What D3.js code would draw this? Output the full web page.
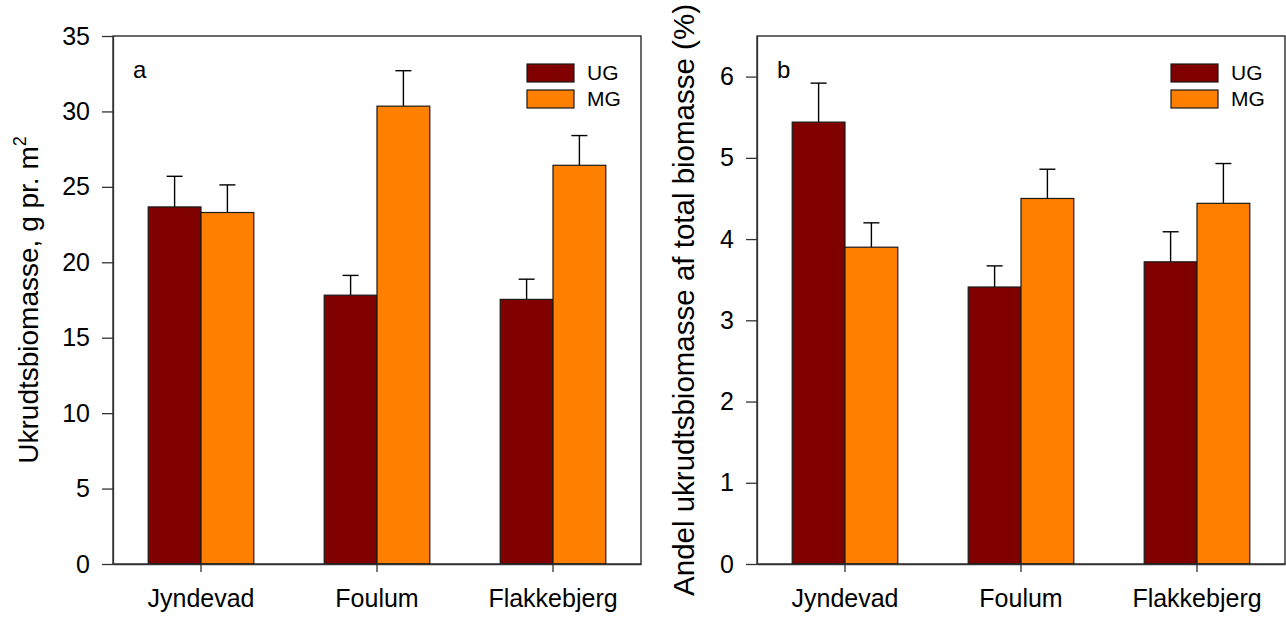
<!DOCTYPE html>
<html>
<head>
<meta charset="utf-8">
<script src="https://cdn.jsdelivr.net/npm/d3@7"></script>
<style>
  body { margin: 0; background: #fff; }
  svg { display: block; font-family: "Liberation Sans", Arial, sans-serif; }
</style>
</head>
<body>
<div id="chart"></div>
<script>
// data
const sites = ["Jyndevad", "Foulum", "Flakkebjerg"]
const groups = ["UG", "MG"]
const groupColors = ["#800000", "#FF8000"]

// panel a: weed biomass, g per m2
const biomassUG = [23.67, 17.82, 17.54]
const biomassUGse = [2.03, 1.31, 1.34]
const biomassMG = [23.30, 30.35, 26.43]
const biomassMGse = [1.83, 2.35, 1.97]
const biomassTicks = [0, 5, 10, 15, 20, 25, 30, 35]

// panel b: share of total biomass, %
const shareUG = [5.44, 3.41, 3.72]
const shareUGse = [0.48, 0.26, 0.37]
const shareMG = [3.90, 4.50, 4.44]
const shareMGse = [0.30, 0.36, 0.49]
const shareTicks = [0, 1, 2, 3, 4, 5, 6]

const width = 1286
const height = 630

const svg = d3.select("#chart")
  .append("svg")
    .attr("width", width)
    .attr("height", height)

const drawPanel = (opts) => {
  const { left, right, top, bottom, yMax, ticks, ug, ugSe, mg, mgSe, letter, title } = opts
  const xScale = d3.scaleBand().domain(sites).range([left, right]).padding(0)
  const yScale = d3.scaleLinear().domain([0, yMax]).range([bottom, top])
  const step = xScale.bandwidth()
  const barW = step * 0.3

  const g = svg.append("g")

  const rows = []
  sites.forEach((s, i) => {
    rows.push({ site: s, k: 0, v: ug[i], se: ugSe[i] })
    rows.push({ site: s, k: 1, v: mg[i], se: mgSe[i] })
  })
  const barX = d => xScale(d.site) + step / 2 + (d.k === 0 ? -barW : 0)

  // error bars (upper only)
  const err = g.append("g").attr("stroke", "#000").attr("stroke-width", 1.4)
  err.selectAll("line.stem")
    .data(rows)
    .join("line")
      .attr("class", "stem")
      .attr("x1", d => barX(d) + barW / 2)
      .attr("x2", d => barX(d) + barW / 2)
      .attr("y1", d => yScale(d.v))
      .attr("y2", d => yScale(d.v + d.se))
  err.selectAll("line.cap")
    .data(rows)
    .join("line")
      .attr("class", "cap")
      .attr("x1", d => barX(d) + barW / 2 - 8)
      .attr("x2", d => barX(d) + barW / 2 + 8)
      .attr("y1", d => yScale(d.v + d.se))
      .attr("y2", d => yScale(d.v + d.se))

  g.append("g")
    .selectAll("rect")
    .data(rows)
    .join("rect")
      .attr("x", barX)
      .attr("y", d => yScale(d.v))
      .attr("width", barW)
      .attr("height", d => yScale(0) - yScale(d.v))
      .attr("fill", d => groupColors[d.k])
      .attr("stroke", "#1a1a1a")
      .attr("stroke-width", 1.2)

  // frame
  g.append("rect")
    .attr("x", left)
    .attr("y", top)
    .attr("width", right - left)
    .attr("height", bottom - top)
    .attr("fill", "none")
    .attr("stroke", "#1a1a1a")
    .attr("stroke-width", 1.3)

  const yAxis = g.append("g")
    .attr("transform", "translate(" + left + ",0)")
    .call(d3.axisLeft(yScale).tickValues(ticks).tickFormat(d3.format("d"))
      .tickSize(11).tickSizeOuter(0).tickPadding(12))
  yAxis.select(".domain").attr("stroke", "#333").attr("stroke-width", 1.3)
  yAxis.selectAll(".tick line").attr("stroke", "#333").attr("stroke-width", 1.3)
  yAxis.selectAll("text").attr("font-size", 25).attr("fill", "#000").attr("font-family", "Liberation Sans, Arial, sans-serif")

  const xAxis = g.append("g")
    .attr("transform", "translate(0," + bottom + ")")
    .call(d3.axisBottom(xScale).tickSize(8).tickSizeOuter(0).tickPadding(17))
  xAxis.select(".domain").attr("stroke", "#333").attr("stroke-width", 1.3)
  xAxis.selectAll(".tick line").attr("stroke", "#333").attr("stroke-width", 1.3)
  xAxis.selectAll("text").attr("font-size", 25).attr("fill", "#000").attr("font-family", "Liberation Sans, Arial, sans-serif")

  g.append("text")
    .attr("x", left + 20)
    .attr("y", top + 42)
    .attr("font-size", 24)
    .text(letter)

  // legend
  const lg = g.append("g").attr("transform", "translate(" + (right - 114) + "," + (top + 28) + ")")
  groups.forEach((name, i) => {
    lg.append("rect")
      .attr("x", 0)
      .attr("y", i * 26)
      .attr("width", 47)
      .attr("height", 18)
      .attr("fill", groupColors[i])
      .attr("stroke", "#1a1a1a")
      .attr("stroke-width", 1.2)
    lg.append("text")
      .attr("x", 60)
      .attr("y", i * 26 + 16)
      .attr("font-size", 21)
      .text(name)
  })

  // y title
  const t = g.append("text")
    .attr("transform", "translate(" + opts.titleX + "," + ((top + bottom) / 2) + ") rotate(-90)")
    .attr("text-anchor", "middle")
    .attr("font-size", opts.titleSize)
  title(t)
}

drawPanel({
  left: 113, right: 641, top: 36, bottom: 564,
  yMax: 35, ticks: biomassTicks,
  ug: biomassUG, ugSe: biomassUGse, mg: biomassMG, mgSe: biomassMGse,
  letter: "a", titleX: 38, titleSize: 28,
  title: t => {
    t.append("tspan").text("Ukrudtsbiomasse, g pr. m")
    t.append("tspan").attr("font-size", 18).attr("dy", -12).text("2")
  }
})

drawPanel({
  left: 757, right: 1285, top: 36, bottom: 564,
  yMax: 6.5, ticks: shareTicks,
  ug: shareUG, ugSe: shareUGse, mg: shareMG, mgSe: shareMGse,
  letter: "b", titleX: 694, titleSize: 29.5,
  title: t => t.text("Andel ukrudtsbiomasse af total biomasse (%)")
})
</script>
</body>
</html>
